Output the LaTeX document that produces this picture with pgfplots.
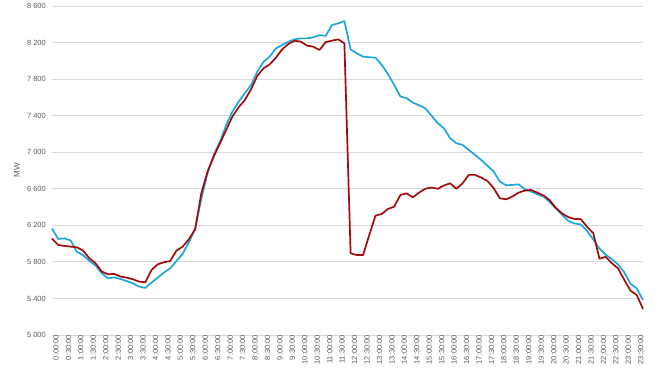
\documentclass[border=0pt]{standalone}
\usepackage{pgfplots}
\pgfplotsset{compat=1.18}
\usepackage{fontspec}
\setmainfont{Liberation Sans}
\definecolor{cyanline}{RGB}{28,166,218}
\definecolor{redline}{RGB}{165,10,10}
\definecolor{labgray}{RGB}{89,89,89}
\definecolor{gridgray}{RGB}{217,217,217}
\begin{document}
\begin{tikzpicture}
\begin{axis}[
  scale only axis,
  width=591bp, height=329bp,
  xmin=0, xmax=95,
  ymin=5000, ymax=8600,
  ytick={5000,5400,...,8600},
  yticklabels={5~000,5~400,5~800,6~200,6~600,7~000,7~400,7~800,8~200,8~600},
  xtick={0,2,...,94},
  xticklabels={0:00:00,0:30:00,1:00:00,1:30:00,2:00:00,2:30:00,3:00:00,3:30:00,4:00:00,4:30:00,5:00:00,5:30:00,6:00:00,6:30:00,7:00:00,7:30:00,8:00:00,8:30:00,9:00:00,9:30:00,10:00:00,10:30:00,11:00:00,11:30:00,12:00:00,12:30:00,13:00:00,13:30:00,14:00:00,14:30:00,15:00:00,15:30:00,16:00:00,16:30:00,17:00:00,17:30:00,18:00:00,18:30:00,19:00:00,19:30:00,20:00:00,20:30:00,21:00:00,21:30:00,22:00:00,22:30:00,23:00:00,23:30:00},
  ymajorgrids,
  major grid style={gridgray, line width=0.8pt},
  axis line style={draw=none},
  tick style={draw=none},
  major tick length=0pt,
  yticklabel style={font=\fontsize{7.5}{9}\selectfont, text=labgray, inner sep=0pt, xshift=-6bp},
  xticklabel style={font=\fontsize{7.5}{9}\selectfont, text=labgray, inner sep=0pt, rotate=90, anchor=east, yshift=-4bp},
  ylabel={MW},
  every axis y label/.style={at={(axis description cs:0,0.5)}, xshift=-35bp, rotate=90, anchor=center, font=\fontsize{8}{10}\selectfont, text=labgray},
  clip=false,
]
\addplot[cyanline, line width=1.7pt, line join=round] coordinates {
(0,6165)(1,6050)(2,6058)(3,6035)(4,5910)(5,5875)(6,5810)(7,5760)(8,5676)(9,5620)
(10,5630)(11,5613)(12,5590)(13,5565)(14,5530)(15,5515)(16,5573)(17,5628)(18,5683)(19,5730)
(20,5810)(21,5887)(22,6015)(23,6156)(24,6490)(25,6770)(26,6970)(27,7116)(28,7298)(29,7444)
(30,7553)(31,7645)(32,7736)(33,7882)(34,7990)(35,8046)(36,8137)(37,8173)(38,8210)(39,8235)
(40,8246)(41,8246)(42,8257)(43,8282)(44,8273)(45,8392)(46,8410)(47,8435)(48,8126)(49,8082)
(50,8046)(51,8039)(52,8035)(53,7955)(54,7856)(55,7736)(56,7609)(57,7591)(58,7543)(59,7514)
(60,7481)(61,7401)(62,7317)(63,7263)(64,7153)(65,7098)(66,7080)(67,7025)(68,6970)(69,6915)
(70,6853)(71,6788)(72,6678)(73,6638)(74,6642)(75,6649)(76,6595)(77,6570)(78,6540)(79,6515)
(80,6455)(81,6383)(82,6315)(83,6248)(84,6220)(85,6210)(86,6140)(87,6045)(88,5945)(89,5878)
(90,5830)(91,5770)(92,5685)(93,5560)(94,5510)(95,5383)
};
\addplot[redline, line width=1.7pt, line join=round] coordinates {
(0,6054)(1,5985)(2,5975)(3,5967)(4,5960)(5,5923)(6,5840)(7,5785)(8,5694)(9,5665)
(10,5668)(11,5640)(12,5628)(13,5610)(14,5584)(15,5577)(16,5712)(17,5774)(18,5796)(19,5810)
(20,5923)(21,5967)(22,6047)(23,6156)(24,6550)(25,6788)(26,6952)(27,7098)(28,7244)(29,7390)
(30,7492)(31,7572)(32,7689)(33,7835)(34,7918)(35,7962)(36,8035)(37,8126)(38,8184)(39,8220)
(40,8210)(41,8166)(42,8155)(43,8119)(44,8205)(45,8221)(46,8235)(47,8191)(48,5894)(49,5875)
(50,5875)(51,6094)(52,6306)(53,6324)(54,6379)(55,6404)(56,6532)(57,6550)(58,6506)(59,6558)
(60,6600)(61,6613)(62,6600)(63,6636)(64,6660)(65,6600)(66,6660)(67,6752)(68,6752)(69,6722)
(70,6686)(71,6606)(72,6496)(73,6485)(74,6515)(75,6558)(76,6580)(77,6587)(78,6558)(79,6527)
(80,6475)(81,6390)(82,6330)(83,6290)(84,6270)(85,6268)(86,6185)(87,6115)(88,5835)(89,5855)
(90,5785)(91,5728)(92,5602)(93,5485)(94,5437)(95,5285)
};
\end{axis}
\pgfresetboundingbox
\useasboundingbox (-52bp,-36bp) rectangle (602bp,335bp);
\end{tikzpicture}
\end{document}
